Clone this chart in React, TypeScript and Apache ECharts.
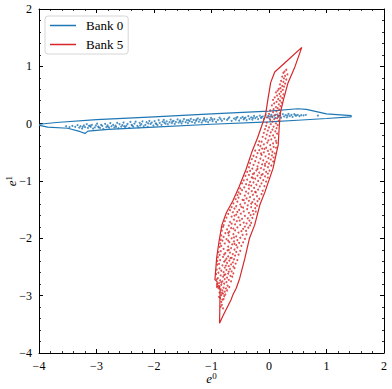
import React, { useEffect, useRef } from "react";
import * as echarts from "echarts";

const xTicks = [-4, -3, -2, -1, 0, 1, 2];
const yTicks = [-4, -3, -2, -1, 0, 1, 2];
const seriesNames = ["Bank 0", "Bank 5"];
const axisNames = ["e", "0", "1"];

const bank0Points: number[][] = [
  [-3.53,-0.045],[-3.47,-0.06],[-3.42,-0.04],[-3.37,-0.055],[-3.33,-0.025],[-3.30,-0.07],[-3.28,-0.045],[-3.25,-0.085],[-3.22,-0.03],[-3.20,-0.06],
  [-3.17,-0.01],[-3.15,-0.075],[-3.13,-0.04],[-3.10,-0.055],[-3.08,-0.02],[-3.06,-0.085],[-3.03,-0.065],[-3.01,-0.03],[-2.99,0.00],[-2.97,-0.05],
  [-2.94,-0.075],[-2.92,-0.02],[-2.90,-0.04],[-2.88,-0.09],[-2.85,-0.005],[-2.83,-0.06],[-2.81,-0.03],[-2.78,-0.07],[-2.76,0.01],[-2.74,-0.045],
  [-2.71,-0.02],[-2.69,-0.065],[-2.67,-0.035],[-2.64,0.015],[-2.62,-0.08],[-2.60,-0.01],[-2.57,-0.05],[-2.55,-0.025],[-2.53,0.02],[-2.50,-0.06],
  [-2.48,-0.035],[-2.46,-0.005],[-2.43,-0.075],[-2.41,0.03],[-2.39,-0.02],[-2.36,-0.05],[-2.34,0.00],[-2.32,0.035],[-2.29,-0.04],[-2.27,-0.065],
  [-2.25,0.015],[-2.22,-0.01],[-2.20,0.04],[-2.18,-0.045],[-2.15,-0.02],[-2.13,0.025],[-2.11,-0.055],[-2.08,0.05],[-2.06,-0.005],[-2.04,0.02],
  [-2.01,-0.035],[-1.99,0.045],[-1.97,0.005],[-1.94,-0.025],[-1.92,0.06],[-1.90,0.015],[-1.87,-0.02],[-1.85,0.035],[-1.83,0.065],[-1.80,0.00],
  [-1.78,0.04],[-1.76,-0.01],[-1.73,0.025],[-1.71,0.07],[-1.69,0.01],[-1.66,0.05],[-1.64,-0.005],[-1.62,0.03],[-1.59,0.075],[-1.57,0.02],
  [-1.55,0.055],[-1.52,0.005],[-1.50,0.04],[-1.48,0.08],[-1.45,0.025],[-1.43,0.06],[-1.41,0.01],[-1.38,0.045],[-1.36,0.085],[-1.34,0.03],
  [-1.31,0.065],[-1.29,0.015],[-1.27,0.05],[-1.24,0.09],[-1.22,0.035],[-1.20,0.07],[-1.17,0.02],[-1.15,0.055],[-1.13,0.095],[-1.10,0.04],
  [-1.08,0.075],[-1.06,0.025],[-1.03,0.06],[-1.01,0.10],[-0.98,0.045],[-0.95,0.08],[-0.92,0.03],[-0.89,0.065],[-0.86,0.105],[-0.82,0.05],
  [-0.78,0.085],[-0.73,0.065],[-0.69,0.11],[-0.65,0.05],[-0.61,0.09],[-0.58,0.07],[-0.55,0.115],[-0.52,0.055],[-0.49,0.095],[-0.46,0.12],
  [-0.44,0.075],[-0.41,0.105],[-0.39,0.06],[-0.36,0.13],[-0.34,0.085],[-0.31,0.11],[-0.29,0.07],[-0.26,0.135],[-0.24,0.095],[-0.21,0.12],
  [-0.19,0.08],[-0.16,0.14],[-0.14,0.10],[-0.11,0.125],[-0.09,0.085],[-0.06,0.15],[-0.04,0.11],[-0.01,0.135],[0.01,0.09],[0.04,0.155],
  [0.06,0.115],[0.09,0.14],[0.11,0.10],[0.14,0.16],[0.16,0.12],[0.19,0.145],[0.21,0.105],[0.24,0.165],[0.26,0.125],[0.29,0.15],
  [0.31,0.11],[0.34,0.17],[0.36,0.13],[0.39,0.155],[0.41,0.12],[0.44,0.165],[0.47,0.14],[0.50,0.155],[0.53,0.13],[0.56,0.15],
  [0.60,0.145],[0.64,0.155],[0.85,0.14],
  [-3.24,-0.055],[-3.11,-0.035],[-2.96,-0.065],[-2.80,-0.05],[-2.66,-0.055],[-2.52,-0.045],[-2.38,-0.035],[-2.24,-0.03],[-2.10,0.005],[-1.96,-0.005],
  [-1.82,0.02],[-1.68,0.035],[-1.54,0.035],[-1.40,0.06],[-1.26,0.07],[-1.12,0.065],[-0.99,0.075],[-0.84,0.08],[-0.71,0.09],[-0.57,0.10],
  [-0.43,0.095],[-0.28,0.10],[-0.13,0.115],[0.02,0.125],[0.17,0.135],[0.32,0.14],[0.46,0.145]
];

const bank0Contour: number[][] = [
  [-3.99,-0.01],[-3.7,0.02],[-3.0,0.07],[-2.0,0.12],[-1.0,0.17],[0.0,0.22],[0.5,0.26],[0.65,0.25],[1.0,0.17],[1.43,0.14],
  [1.43,0.12],[1.0,0.09],[0.5,0.06],[0.0,0.03],[-1.0,-0.01],[-2.0,-0.06],[-2.8,-0.10],[-3.15,-0.13],[-3.2,-0.17],[-3.28,-0.14],
  [-3.5,-0.08],[-3.85,-0.06],[-3.99,-0.03],[-3.99,-0.01]
];

const bank5Points: number[][] = [
  [0.30,0.94],[0.27,0.91],[0.25,0.885],[0.32,0.86],[0.28,0.835],[0.23,0.82],[0.26,0.79],[0.30,0.77],[0.21,0.745],[0.25,0.73],[0.28,0.70],[0.19,0.685],[0.23,0.66],[0.26,0.645],[0.20,0.62],[0.17,0.605],
  [0.24,0.59],[0.15,0.575],[0.21,0.56],[0.12,0.545],[0.18,0.52],[0.25,0.51],[0.14,0.49],[0.20,0.475],[0.10,0.46],[0.23,0.445],[0.16,0.43],[0.07,0.415],[0.19,0.40],[0.13,0.38],[0.22,0.365],[0.09,0.355],[0.17,0.335],[0.05,0.32],[0.20,0.305],[0.12,0.29],[0.15,0.27],[0.08,0.255],
  [0.18,0.245],[0.02,0.23],[0.13,0.215],[0.07,0.20],[0.19,0.185],[0.00,0.17],[0.11,0.155],[0.16,0.14],[0.05,0.125],[-0.02,0.11],[0.14,0.095],[0.09,0.08],[0.02,0.065],[0.17,0.05],[0.06,0.035],[-0.04,0.02],[0.12,0.005],[0.03,-0.01],[0.15,-0.025],[-0.05,-0.04],[0.08,-0.05],
  [0.00,-0.065],[0.13,-0.08],[-0.07,-0.095],[0.06,-0.105],[-0.02,-0.12],[0.11,-0.135],[0.03,-0.15],[-0.09,-0.16],[0.14,-0.175],[-0.04,-0.19],[0.07,-0.205],[0.01,-0.215],[-0.11,-0.23],[0.10,-0.245],[-0.06,-0.26],[0.04,-0.275],[-0.01,-0.29],[0.12,-0.30],[-0.13,-0.315],[-0.03,-0.33],[0.07,-0.345],[-0.09,-0.36],[0.02,-0.375],[-0.15,-0.39],
  [0.08,-0.405],[-0.05,-0.42],[-0.12,-0.435],[0.03,-0.45],[-0.17,-0.46],[-0.02,-0.475],[0.06,-0.49],[-0.09,-0.50],[-0.20,-0.515],[0.00,-0.53],[-0.13,-0.545],[0.05,-0.555],[-0.06,-0.57],[-0.22,-0.585],[-0.01,-0.60],[-0.15,-0.61],[0.03,-0.625],[-0.10,-0.64],[-0.24,-0.655],[-0.04,-0.665],[-0.18,-0.68],[0.00,-0.695],[-0.12,-0.71],[-0.27,-0.72],[-0.07,-0.735],[-0.20,-0.745],
  [-0.02,-0.76],[-0.14,-0.775],[-0.29,-0.785],[-0.09,-0.80],[-0.22,-0.815],[-0.33,-0.825],[-0.05,-0.84],[-0.17,-0.855],[-0.26,-0.865],[-0.11,-0.88],[-0.35,-0.895],[-0.20,-0.905],[-0.07,-0.92],[-0.30,-0.935],[-0.15,-0.945],[-0.24,-0.96],[-0.38,-0.975],[-0.10,-0.985],[-0.19,-1.00],[-0.33,-1.015],[-0.27,-1.025],[-0.13,-1.04],[-0.40,-1.055],[-0.22,-1.065],[-0.31,-1.08],[-0.16,-1.095],
  [-0.43,-1.11],[-0.26,-1.12],[-0.35,-1.135],[-0.19,-1.15],[-0.47,-1.16],[-0.30,-1.175],[-0.40,-1.185],[-0.23,-1.20],[-0.36,-1.215],[-0.50,-1.225],[-0.28,-1.24],[-0.42,-1.255],[-0.21,-1.265],[-0.33,-1.28],[-0.53,-1.29],[-0.39,-1.305],[-0.26,-1.32],[-0.46,-1.33],[-0.35,-1.345],[-0.55,-1.36],[-0.29,-1.37],[-0.42,-1.385],[-0.24,-1.40],[-0.50,-1.41],[-0.37,-1.425],[-0.57,-1.44],
  [-0.31,-1.455],[-0.45,-1.465],[-0.60,-1.48],[-0.38,-1.49],[-0.52,-1.505],[-0.28,-1.52],[-0.44,-1.53],[-0.63,-1.545],[-0.35,-1.555],[-0.49,-1.57],[-0.57,-1.585],[-0.32,-1.595],[-0.42,-1.61],[-0.65,-1.62],[-0.53,-1.635],[-0.37,-1.65],[-0.47,-1.66],[-0.61,-1.675],[-0.34,-1.69],[-0.56,-1.70],[-0.68,-1.715],[-0.44,-1.725],[-0.39,-1.74],[-0.59,-1.755],[-0.50,-1.765],[-0.70,-1.78],[-0.42,-1.795],
  [-0.55,-1.81],[-0.66,-1.82],[-0.45,-1.835],[-0.73,-1.845],[-0.59,-1.86],[-0.48,-1.875],[-0.69,-1.885],[-0.53,-1.90],[-0.76,-1.91],[-0.62,-1.925],[-0.46,-1.94],[-0.70,-1.95],[-0.57,-1.965],[-0.79,-1.975],[-0.50,-1.99],[-0.65,-2.00],[-0.74,-2.015],[-0.55,-2.03],[-0.81,-2.04],[-0.61,-2.055],[-0.69,-2.065],[-0.52,-2.08],[-0.77,-2.09],[-0.64,-2.105],[-0.57,-2.12],[-0.83,-2.13],[-0.71,-2.145],
  [-0.55,-2.16],[-0.66,-2.17],[-0.79,-2.185],[-0.60,-2.195],[-0.72,-2.21],[-0.84,-2.225],[-0.57,-2.235],[-0.68,-2.25],[-0.76,-2.26],[-0.63,-2.275],[-0.86,-2.29],[-0.59,-2.30],[-0.71,-2.315],[-0.80,-2.325],[-0.65,-2.34],[-0.74,-2.355],[-0.61,-2.365],[-0.85,-2.38],[-0.69,-2.39],[-0.78,-2.405],[-0.63,-2.42],[-0.73,-2.43],[-0.87,-2.445],[-0.66,-2.455],[-0.81,-2.47],[-0.70,-2.485],[-0.62,-2.495],
  [-0.77,-2.51],[-0.86,-2.525],[-0.68,-2.535],[-0.74,-2.55],[-0.83,-2.565],[-0.65,-2.575],[-0.79,-2.59],[-0.88,-2.60],[-0.71,-2.615],[-0.76,-2.63],[-0.84,-2.645],[-0.67,-2.655],[-0.80,-2.67],[-0.73,-2.685],[-0.89,-2.695],[-0.77,-2.71],[-0.70,-2.725],[-0.85,-2.735],[-0.81,-2.75],[-0.74,-2.765],[-0.87,-2.78],[-0.78,-2.79],
  [-0.83,-2.81],[-0.72,-2.825],[-0.86,-2.84],[-0.79,-2.86],[-0.75,-2.875],[-0.84,-2.89],[-0.81,-2.91],[-0.77,-2.93],[-0.86,-2.945],[-0.80,-2.965],[-0.83,-2.99],[-0.78,-3.01],[-0.85,-3.04],[-0.81,-3.07],[-0.83,-3.11],[-0.82,-3.16],
  [-0.17,-0.31],[0.13,-0.335],[-0.19,-0.37],[0.12,-0.42],[-0.24,-0.47],[0.10,-0.52],[-0.27,-0.56],[0.08,-0.59],[-0.08,-0.44],[-0.14,-0.52],
  [-0.30,-0.62],[0.07,-0.66],[-0.33,-0.69],[-0.07,-0.70],[0.04,-0.73],[-0.35,-0.76],[-0.20,-0.79],[0.01,-0.82],[-0.38,-0.84],[-0.28,-0.88],[-0.13,-0.895],[-0.02,-0.87],
  [-0.41,-0.91],[-0.02,-0.94],[-0.44,-0.99],[-0.28,-0.95],[-0.05,-1.01],[-0.47,-1.04],[-0.35,-1.07],[-0.08,-1.09],[-0.50,-1.13],[-0.11,-1.17],[-0.24,-1.19],[-0.53,-1.20],
  [-0.13,-1.23],[-0.55,-1.245],[-0.17,-1.31],[-0.58,-1.315],[-0.44,-1.335],[-0.20,-1.35],[-0.62,-1.39],[-0.31,-1.395],[-0.21,-1.43],[-0.65,-1.455],[-0.48,-1.45],[-0.24,-1.475],
  [-0.68,-1.51],[-0.23,-1.535],[-0.55,-1.54],[-0.71,-1.575],[-0.27,-1.58],[-0.60,-1.605],[-0.74,-1.64],[-0.29,-1.645],[-0.51,-1.69],[-0.77,-1.70],[-0.31,-1.73],[-0.65,-1.745],[-0.79,-1.77],[-0.33,-1.775],
  [-0.80,-1.80],[-0.36,-1.815],[-0.62,-1.83],[-0.40,-1.87],[-0.82,-1.865],[-0.71,-1.905],[-0.39,-1.93],[-0.83,-1.95],[-0.61,-1.985],[-0.42,-2.01],[-0.84,-2.025],[-0.71,-2.04],[-0.45,-2.07],[-0.85,-2.09],[-0.60,-2.095],
  [-0.48,-2.13],[-0.86,-2.15],[-0.70,-2.20],[-0.50,-2.22],[-0.88,-2.24],[-0.78,-2.28],[-0.53,-2.285],[-0.89,-2.33],[-0.67,-2.345],[-0.55,-2.38],[-0.90,-2.395],[-0.76,-2.385],
  [-0.58,-2.44],[-0.90,-2.46],[-0.75,-2.475],[-0.60,-2.52],[-0.91,-2.545],[-0.70,-2.58],[-0.62,-2.61],[-0.92,-2.625],[-0.78,-2.64],[-0.64,-2.67],[-0.91,-2.715],[-0.66,-2.75],[-0.83,-2.77],[-0.90,-2.80],
  [-0.69,-2.85],[-0.88,-2.87],[-0.73,-2.91],[-0.82,-2.95],[-0.76,-2.98],[-0.87,-3.02],[-0.79,-3.06],[-0.84,-3.19],[-0.80,-3.22]
];

const bank5Contour: number[][] = [
  [0.57,1.33],[0.34,1.12],[0.10,0.90],[0.03,0.72],[-0.02,0.42],[-0.06,0.15],[-0.12,-0.02],[-0.20,-0.25],[-0.30,-0.50],[-0.40,-0.80],
  [-0.52,-1.10],[-0.63,-1.35],[-0.74,-1.55],[-0.82,-1.77],[-0.87,-2.06],[-0.91,-2.34],[-0.94,-2.72],[-0.90,-2.76],[-0.91,-2.86],[-0.87,-2.82],
  [-0.85,-2.90],[-0.86,-3.48],[-0.80,-3.35],[-0.66,-3.07],[-0.63,-2.99],[-0.57,-2.87],[-0.51,-2.70],[-0.42,-2.35],[-0.34,-2.00],[-0.25,-1.77],
  [-0.16,-1.42],[-0.07,-1.19],[0.07,-0.78],[0.16,-0.37],[0.18,-0.02],[0.20,0.20],[0.25,0.41],[0.33,0.71],[0.45,0.99],[0.57,1.33]
];

const BLUE = "#1f77b4";
const RED = "#d62728";
const FONT = "'Liberation Serif', 'DejaVu Serif', serif";

const fmt = (v: number) => String(v).replace("-", "\u2212");

function makeAxis(position: string, showLabel: boolean, isX: boolean, name?: string) {
  const ticks = isX ? xTicks : yTicks;
  return {
    type: "value",
    position,
    min: ticks[0],
    max: ticks[ticks.length - 1],
    interval: 1,
    name: name ?? "",
    nameLocation: "middle",
    nameGap: isX ? 19 : 21,
    nameMoveOverlap: false,
    nameRotate: isX ? 0 : 90,
    nameTextStyle: {
      fontFamily: FONT,
      color: "#000",
      rich: {
        e: { fontFamily: FONT, fontStyle: "italic", fontSize: 13, lineHeight: 13, color: "#000" },
        s: { fontFamily: FONT, fontSize: 9, lineHeight: 9, color: "#000", padding: [0, 0, 5, 0] },
      },
    },
    axisLine: { show: true, onZero: false, lineStyle: { color: "#000", width: 1 } },
    axisTick: { show: true, inside: true, length: 4, lineStyle: { color: "#000", width: 1 } },
    minorTick: { show: true, splitNumber: 5, length: 2, lineStyle: { color: "#000", width: 0.8 } },
    splitLine: { show: false },
    minorSplitLine: { show: false },
    axisLabel: {
      show: showLabel,
      formatter: fmt,
      fontFamily: FONT,
      fontSize: 12,
      lineHeight: 11,
      color: "#000",
      margin: 7,
      showMinLabel: true,
      showMaxLabel: true,
    },
  };
}

export default function App() {
  const ref = useRef<HTMLDivElement>(null);
  useEffect(() => {
    const chart = echarts.init(ref.current!, null, { renderer: "svg" });
    chart.setOption({
      animation: false,
      backgroundColor: "#fff",
      grid: { left: 39, right: 8, top: 9, bottom: 36, containLabel: false, outerBoundsMode: "none" },
      xAxis: [
        makeAxis("bottom", true, true, `{e|${axisNames[0]}}{s|${axisNames[1]}}`),
        makeAxis("top", false, true),
      ],
      yAxis: [
        makeAxis("left", true, false, `{e|${axisNames[0]}}{s|${axisNames[2]}}`),
        makeAxis("right", false, false),
      ],
      legend: {
        data: seriesNames,
        orient: "vertical",
        left: 45,
        top: 16,
        icon: "rect",
        itemWidth: 26,
        itemHeight: 1.5,
        itemGap: 6,
        padding: [3, 5, 3, 5],
        backgroundColor: "#fff",
        borderColor: "#d6d6d6",
        borderWidth: 1,
        borderRadius: 3,
        textStyle: { fontFamily: FONT, fontSize: 13, color: "#000", lineHeight: 12, padding: [0, 0, 0, 5] },
      },
      series: [
        { name: "b0pts", type: "scatter", data: bank0Points, symbolSize: 2, itemStyle: { color: BLUE }, z: 2 },
        {
          name: seriesNames[0], type: "line", data: bank0Contour, symbol: "none",
          lineStyle: { color: BLUE, width: 1.2 }, itemStyle: { color: BLUE }, z: 3,
        },
        { name: "b5pts", type: "scatter", data: bank5Points, symbolSize: 2, itemStyle: { color: RED }, z: 4 },
        {
          name: seriesNames[1], type: "line", data: bank5Contour, symbol: "none",
          lineStyle: { color: RED, width: 1.2 }, itemStyle: { color: RED }, z: 5,
        },
      ],
    });
    return () => chart.dispose();
  }, []);
  return <div ref={ref} style={{ position: "absolute", left: 0, top: 0, width: 392, height: 389 }} />;
}
